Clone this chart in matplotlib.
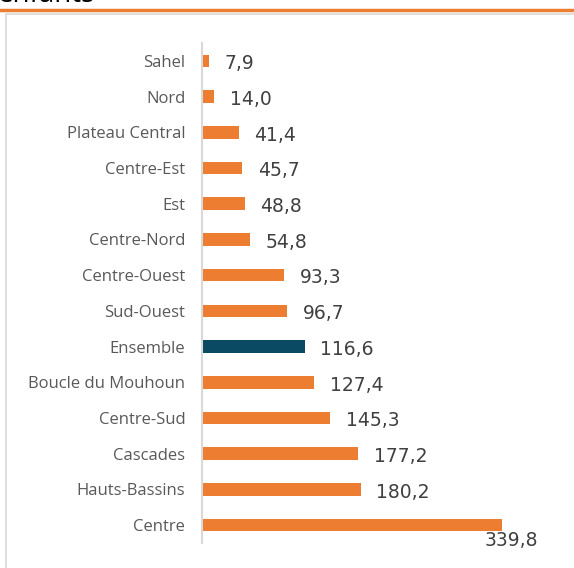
import matplotlib.pyplot as plt
import matplotlib.patches as patches
from matplotlib.lines import Line2D

regions = ["Sahel", "Nord", "Plateau Central", "Centre-Est", "Est", "Centre-Nord",
           "Centre-Ouest", "Sud-Ouest", "Ensemble", "Boucle du Mouhoun", "Centre-Sud",
           "Cascades", "Hauts-Bassins", "Centre"]
values = [7.9, 14.0, 41.4, 45.7, 48.8, 54.8, 93.3, 96.7, 116.6, 127.4, 145.3, 177.2, 180.2, 339.8]

orange = "#ED7D31"
teal = "#0B4A63"
colors = [teal if r == "Ensemble" else orange for r in regions]

plt.rcParams["font.family"] = ["Open Sans", "DejaVu Sans"]

W, H = 574, 568
fig = plt.figure(figsize=(W / 100, H / 100), dpi=100)

# cut-off title and frame of the original page
fig.text(-0.004, 1 - 2 / H, "enfants", fontsize=20, color="black", ha="left", va="baseline")
fig.add_artist(Line2D([0, 1], [1 - 10 / H, 1 - 10 / H], color=orange, lw=2.5))
fig.add_artist(patches.Rectangle((6 / W, -0.01), 1.0, 1 - 14 / H + 0.01, fill=False,
                                 edgecolor="#D9D9D9", lw=1.2))

ax = fig.add_axes([202 / W, 1 - 543 / H, (560 - 202) / W, (543 - 43) / H])
ypos = list(range(len(regions)))
ax.barh(ypos, values, height=0.35, color=colors)
ax.set_xlim(0, 358 / 0.883)
ax.set_ylim(len(regions) - 0.5, -0.5)
ax.set_yticks(ypos)
ax.set_yticklabels(regions, fontsize=12, color="#595959")
ax.tick_params(axis="y", length=0, pad=12)
ax.set_xticks([])
for s in ["top", "right", "bottom"]:
    ax.spines[s].set_visible(False)
ax.spines["left"].set_color("#D9D9D9")
ax.spines["left"].set_linewidth(1.5)
ax.patch.set_alpha(0)

for y, v in zip(ypos, values):
    txt = f"{v:.1f}".replace(".", ",")
    if v > 300:
        ax.annotate(txt, (v, y), xytext=(7, -11), textcoords="offset points",
                    ha="center", va="center", fontsize=13.5, color="#404040",
                    family="DejaVu Sans")
    else:
        ax.annotate(txt, (v, y), xytext=(11, -2), textcoords="offset points",
                    ha="left", va="center", fontsize=13.5, color="#404040",
                    family="DejaVu Sans")

fig.savefig("out.png", dpi=100)
